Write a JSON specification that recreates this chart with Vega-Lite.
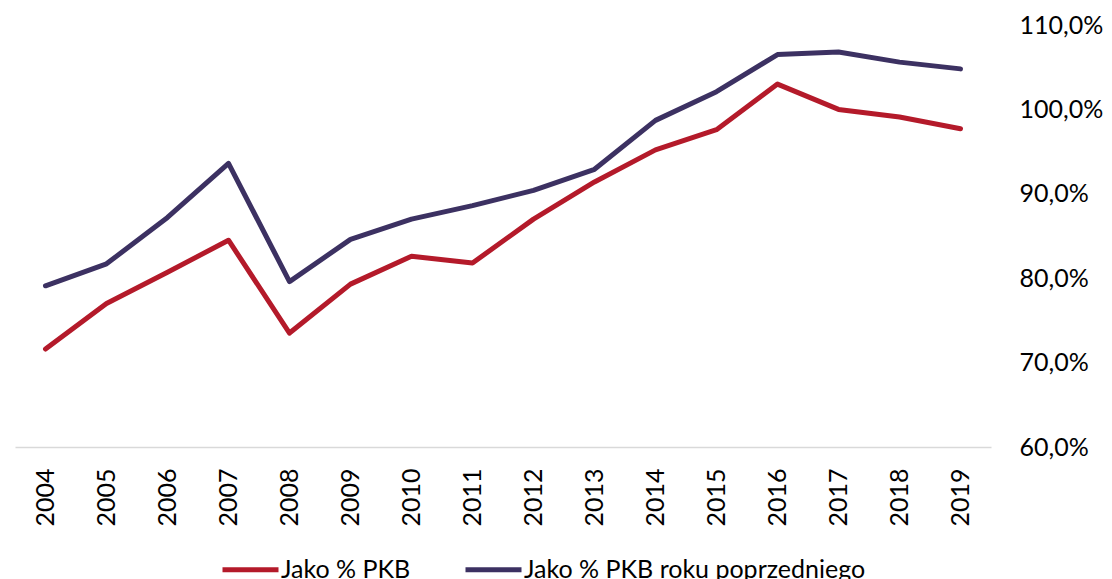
{
  "$schema": "https://vega.github.io/schema/vega-lite/v6.json",
  "width": 976,
  "height": 422,
  "autosize": {"type": "none"},
  "padding": {"left": 15, "top": 25, "right": 121, "bottom": 132},
  "background": "white",
  "config": {
    "view": {"stroke": null},
    "font": "Lato",
    "axis": {"labelFont": "Lato", "labelColor": "#000000"},
    "legend": {"labelFont": "Lato", "labelColor": "#000000"}
  },
  "data": {
    "values": [
      {"year": "2004", "series": "Jako % PKB", "value": 71.6},
      {"year": "2005", "series": "Jako % PKB", "value": 77.0},
      {"year": "2006", "series": "Jako % PKB", "value": 80.7},
      {"year": "2007", "series": "Jako % PKB", "value": 84.5},
      {"year": "2008", "series": "Jako % PKB", "value": 73.5},
      {"year": "2009", "series": "Jako % PKB", "value": 79.3},
      {"year": "2010", "series": "Jako % PKB", "value": 82.6},
      {"year": "2011", "series": "Jako % PKB", "value": 81.8},
      {"year": "2012", "series": "Jako % PKB", "value": 87.0},
      {"year": "2013", "series": "Jako % PKB", "value": 91.4},
      {"year": "2014", "series": "Jako % PKB", "value": 95.2},
      {"year": "2015", "series": "Jako % PKB", "value": 97.6},
      {"year": "2016", "series": "Jako % PKB", "value": 103.0},
      {"year": "2017", "series": "Jako % PKB", "value": 100.0},
      {"year": "2018", "series": "Jako % PKB", "value": 99.1},
      {"year": "2019", "series": "Jako % PKB", "value": 97.7},
      {"year": "2004", "series": "Jako % PKB roku poprzedniego", "value": 79.1},
      {"year": "2005", "series": "Jako % PKB roku poprzedniego", "value": 81.7},
      {"year": "2006", "series": "Jako % PKB roku poprzedniego", "value": 87.2},
      {"year": "2007", "series": "Jako % PKB roku poprzedniego", "value": 93.6},
      {"year": "2008", "series": "Jako % PKB roku poprzedniego", "value": 79.6},
      {"year": "2009", "series": "Jako % PKB roku poprzedniego", "value": 84.6},
      {"year": "2010", "series": "Jako % PKB roku poprzedniego", "value": 87.0},
      {"year": "2011", "series": "Jako % PKB roku poprzedniego", "value": 88.6},
      {"year": "2012", "series": "Jako % PKB roku poprzedniego", "value": 90.4},
      {"year": "2013", "series": "Jako % PKB roku poprzedniego", "value": 92.9},
      {"year": "2014", "series": "Jako % PKB roku poprzedniego", "value": 98.7},
      {"year": "2015", "series": "Jako % PKB roku poprzedniego", "value": 102.1},
      {"year": "2016", "series": "Jako % PKB roku poprzedniego", "value": 106.5},
      {"year": "2017", "series": "Jako % PKB roku poprzedniego", "value": 106.8},
      {"year": "2018", "series": "Jako % PKB roku poprzedniego", "value": 105.6},
      {"year": "2019", "series": "Jako % PKB roku poprzedniego", "value": 104.8}
    ]
  },
  "mark": {"type": "line", "strokeWidth": 5, "strokeCap": "round", "strokeJoin": "round"},
  "encoding": {
    "x": {
      "field": "year",
      "type": "ordinal",
      "scale": {"type": "point", "padding": 0.5},
      "axis": {
        "title": null,
        "labelAngle": -90,
        "labelFontSize": 25,
        "labelPadding": 21,
        "ticks": false,
        "domainColor": "#D9D9D9",
        "domainWidth": 1.5,
        "grid": false
      }
    },
    "y": {
      "field": "value",
      "type": "quantitative",
      "scale": {"domain": [60, 110], "nice": false, "zero": false},
      "axis": {
        "orient": "right",
        "title": null,
        "values": [60, 70, 80, 90, 100, 110],
        "labelExpr": "replace(format(datum.value, '.1f'), '.', ',') + '%'",
        "labelFontSize": 25,
        "labelPadding": 28,
        "labelAlign": "left",
        "domain": false,
        "ticks": false,
        "grid": false
      }
    },
    "color": {
      "field": "series",
      "type": "nominal",
      "scale": {
        "domain": ["Jako % PKB", "Jako % PKB roku poprzedniego"],
        "range": ["#B41A2A", "#3C3162"]
      },
      "legend": {
        "title": null,
        "orient": "none",
        "direction": "horizontal",
        "legendX": 205,
        "legendY": 514,
        "symbolType": "stroke",
        "symbolSize": 3136,
        "symbolStrokeWidth": 5,
        "labelFontSize": 25,
        "labelOffset": 0,
        "labelLimit": 0,
        "columnPadding": 44,
        "padding": 0
      }
    }
  }
}
